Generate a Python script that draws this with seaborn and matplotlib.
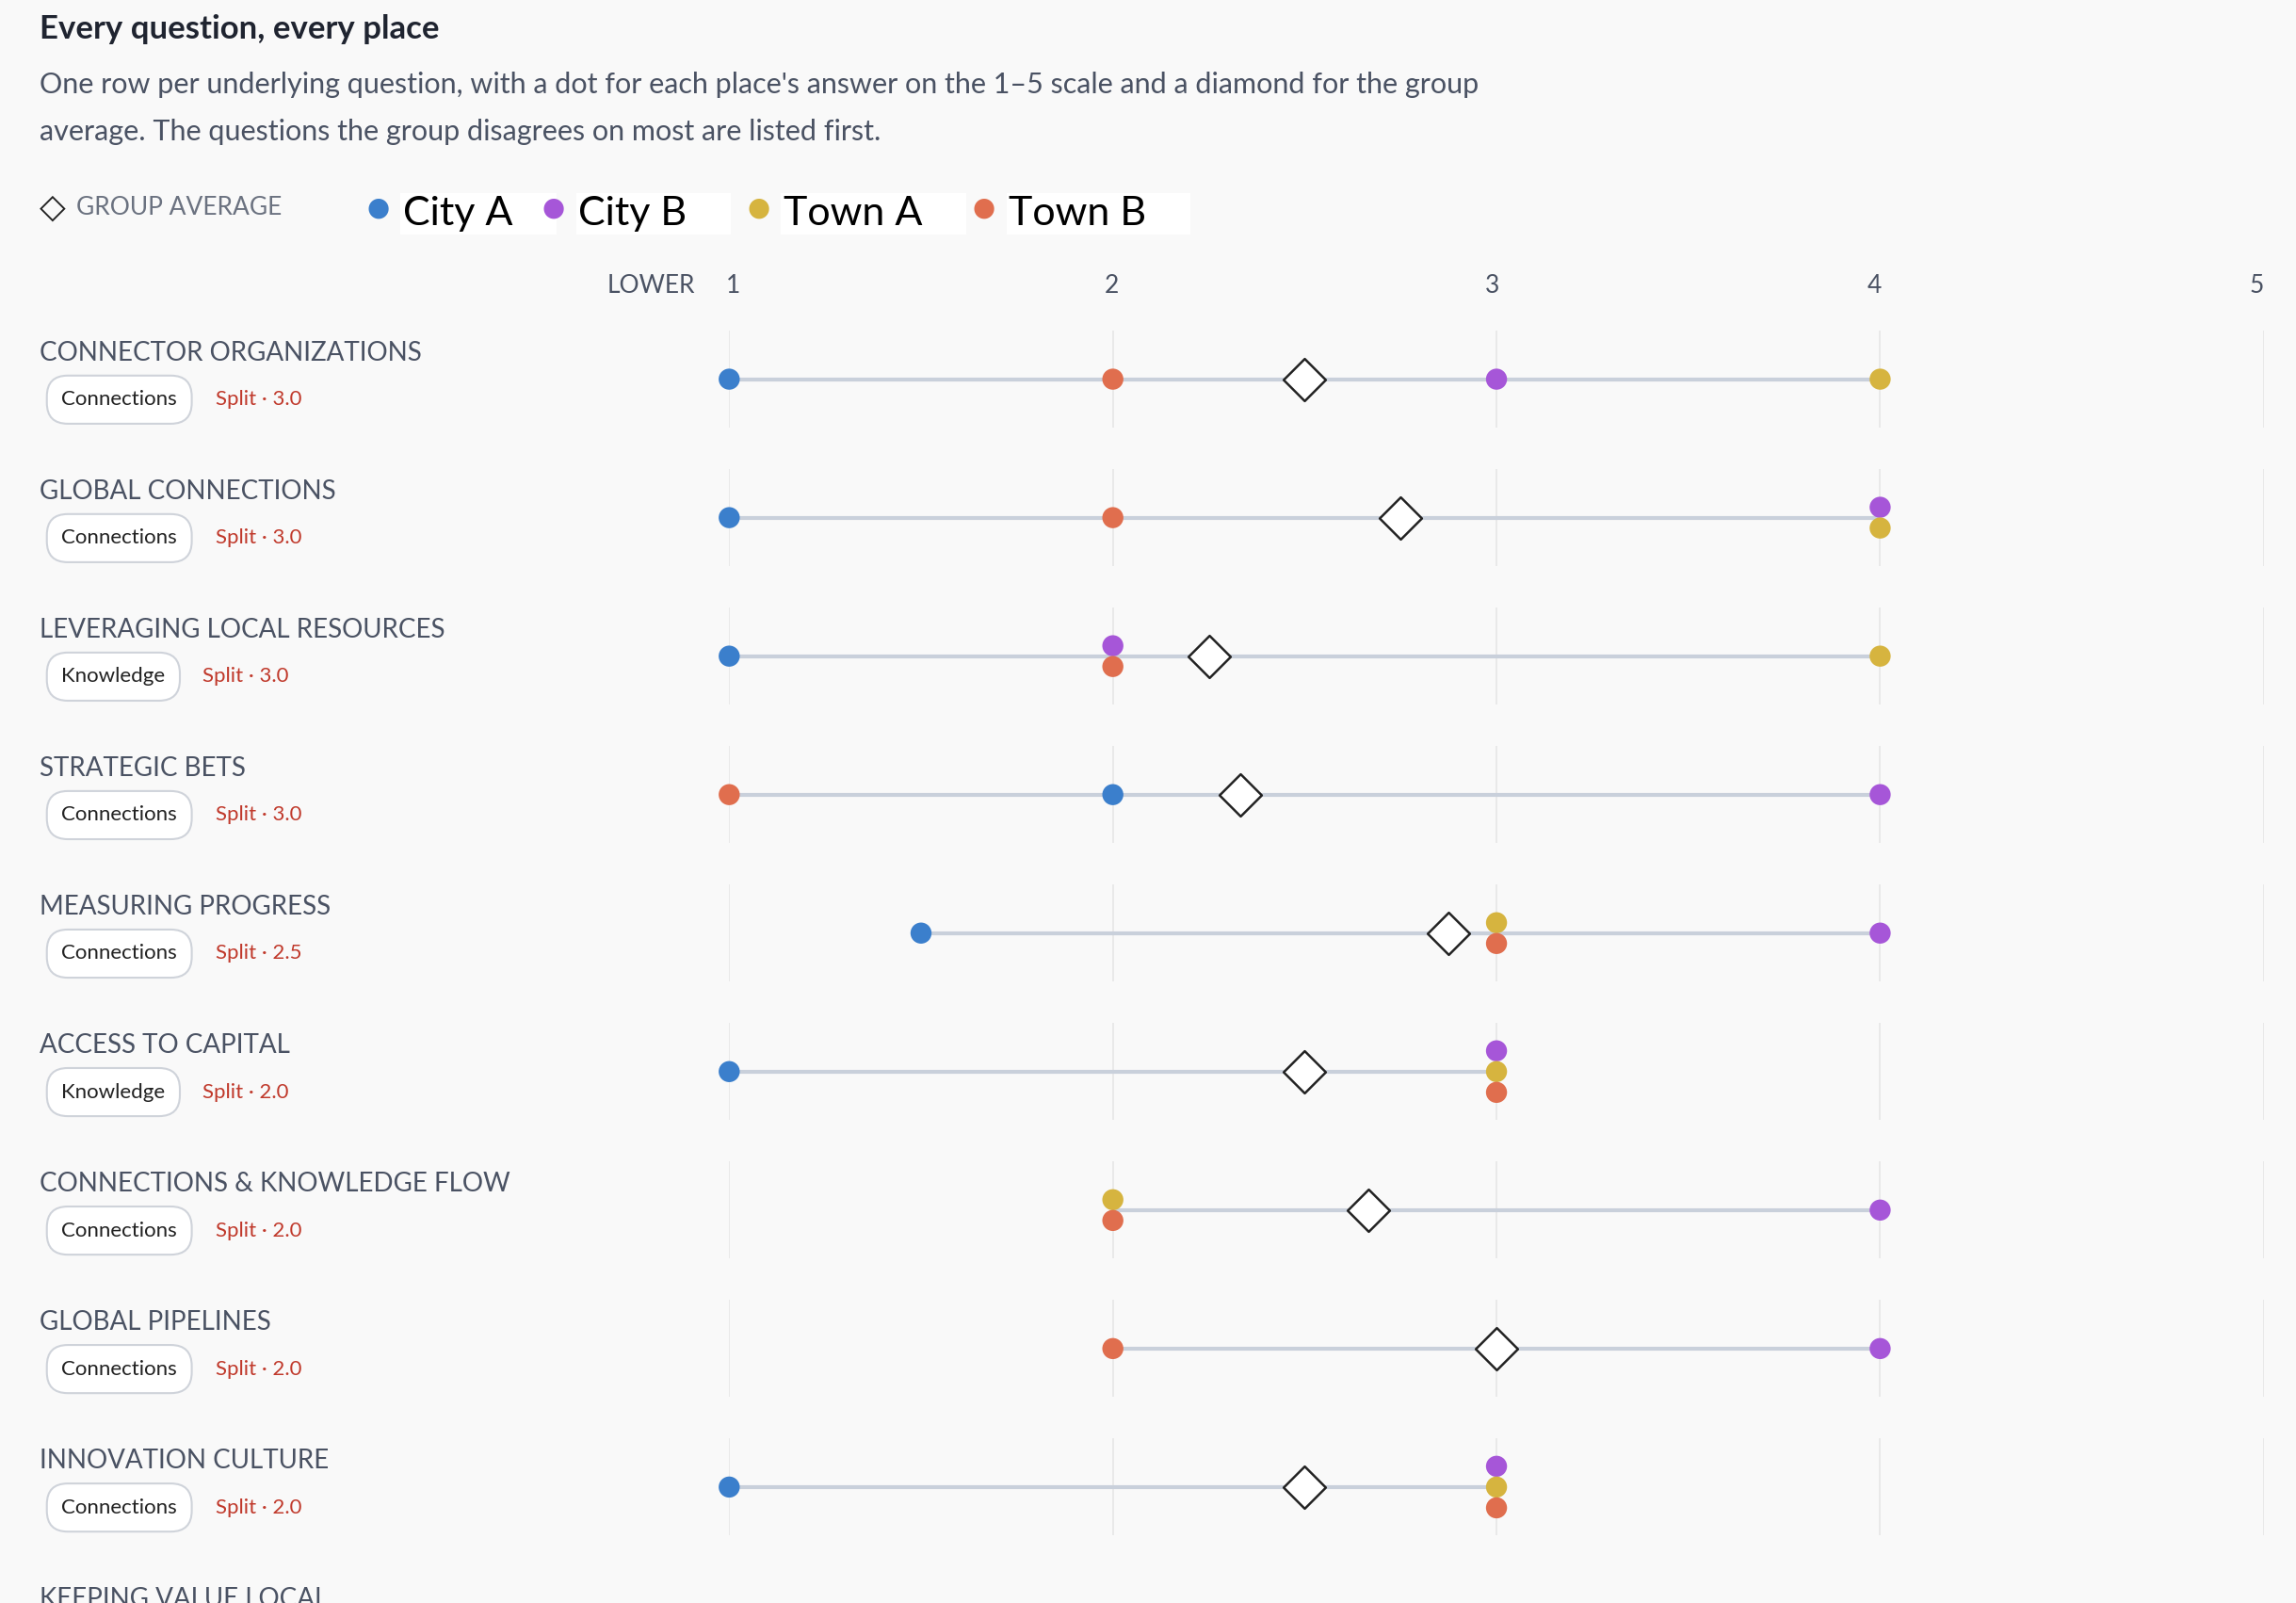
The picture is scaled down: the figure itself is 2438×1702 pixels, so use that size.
import numpy as np
import pandas as pd
import matplotlib.pyplot as plt
import seaborn as sns

questions = ["CONNECTOR ORGANIZATIONS", "GLOBAL CONNECTIONS", "LEVERAGING LOCAL RESOURCES",
             "STRATEGIC BETS", "MEASURING PROGRESS", "ACCESS TO CAPITAL",
             "CONNECTIONS & KNOWLEDGE FLOW", "GLOBAL PIPELINES", "INNOVATION CULTURE"]
themes = ["Connections", "Connections", "Knowledge", "Connections", "Connections",
          "Knowledge", "Connections", "Connections", "Connections"]
splits = [3.0, 3.0, 3.0, 3.0, 2.5, 2.0, 2.0, 2.0, 2.0]
city_a = [1, 1, 1, 2, 1.5, 1, np.nan, np.nan, 1]
city_b = [3, 4, 2, 4, 4, 3, 4, 4, 3]
town_a = [4, 4, 4, np.nan, 3, 3, 2, np.nan, 3]
town_b = [2, 2, 2, 1, 3, 3, 2, 2, 3]
places = ["City A", "City B", "Town A", "Town B"]
colors = {"City A": "#3b7fcc", "City B": "#a656d8", "Town A": "#d6b43f", "Town B": "#e06e4e"}

W, H = 1568, 1095
bg = "#f9f9f9"
sns.set_theme(style="white")
plt.rcParams['font.family'] = ['Lato', 'DejaVu Sans']
fig = plt.figure(figsize=(24.38, 17.02), dpi=100, facecolor=bg)

def fx(x): return x / W
def fy(y): return 1 - y / H

# axes: value 1 at x=498, value 5 at x=1546; rows start at y=259, step 94.6
top_px, bot_px, step = 210, 1095, 94.6
ax = fig.add_axes([fx(498), 0, fx(1546) - fx(498), fy(top_px)])
ax.set_facecolor(bg)
ax.set_xlim(1, 5)
ax.set_ylim((bot_px - 259) / step, (top_px - 259) / step)
ax.axis("off")

vals = {"City A": city_a, "City B": city_b, "Town A": town_a, "Town B": town_b}
rows = []
for i in range(len(questions)):
    groups = {}
    for p in places:
        if not np.isnan(vals[p][i]):
            groups.setdefault(vals[p][i], []).append(p)
    # stack tied values vertically
    for v, ps in groups.items():
        n = len(ps)
        for k, p in enumerate(ps):
            rows.append({"row": i, "y": i + (k - (n - 1) / 2) * 0.15, "value": v, "place": p})
df = pd.DataFrame(rows)

for i in range(len(questions)):
    ax.vlines([1, 2, 3, 4, 5], i - 0.35, i + 0.35, color="#e6e6e6", lw=1.2, zorder=0)
    v = df[df.row == i]["value"]
    ax.hlines(i, v.min(), v.max(), color="#c9d0db", lw=3, zorder=1)
    present = [vals[p][i] for p in places if not np.isnan(vals[p][i])]
    ax.scatter(np.mean(present), i, marker="D", s=520, facecolor="white",
               edgecolor="#222222", lw=1.8, zorder=4, clip_on=False)

sns.scatterplot(data=df, x="value", y="y", hue="place", palette=colors, s=260,
                edgecolor="none", ax=ax, legend=False, zorder=3, clip_on=False)

# header
fig.text(fx(27), fy(20), "Every question, every place", fontsize=25, fontweight="bold",
         color="#1f2430", va="center")
fig.text(fx(27), fy(58), "One row per underlying question, with a dot for each place's answer on the 1–5 scale and a diamond for the group",
         fontsize=22, color="#4a5263", va="center")
fig.text(fx(27), fy(90), "average. The questions the group disagrees on most are listed first.",
         fontsize=22, color="#4a5263", va="center")

# legend
fig.text(fx(36), fy(142), "◇", fontsize=26, color="#222222", va="center", ha="center",
         family=['DejaVu Sans'])
fig.text(fx(52), fy(142), "GROUP AVERAGE", fontsize=19, color="#6b7280", va="center")
for x, p in zip([258, 378, 518, 672], places):
    fig.text(fx(x), fy(142), "●", fontsize=20, color=colors[p], va="center", ha="center",
             family=['DejaVu Sans'])
    fig.text(fx(x + 17), fy(146), p + "    ", fontsize=31, color="black", va="center",
             bbox=dict(facecolor="white", edgecolor="none", pad=2))

# axis ticks
fig.text(fx(475), fy(195), "LOWER", fontsize=19, color="#4a5263", ha="right", va="center")
for v, x in zip(range(1, 6), [501, 759, 1019, 1280, 1541]):
    fig.text(fx(x), fy(195), str(v), fontsize=19, color="#4a5263", ha="center", va="center")

# row labels
pill = dict(boxstyle="round,pad=0.7,rounding_size=1.0", facecolor="white",
            edgecolor="#cfd3da", lw=1.5)
for i, (q, t, s) in enumerate(zip(questions, themes, splits)):
    yc = 241 + i * step
    fig.text(fx(27), fy(yc), q, fontsize=20, color="#4a5263", va="center")
    fig.text(fx(42), fy(yc + 32), t, fontsize=16, color="#222222", va="center", bbox=pill)
    off = 147 if t == "Connections" else 138
    fig.text(fx(off), fy(yc + 32), f"Split · {s:.1f}", fontsize=16, color="#c0392b", va="center")
fig.text(fx(27), fy(241 + 9 * step), "KEEPING VALUE LOCAL", fontsize=20, color="#4a5263", va="center")

fig.savefig("out.png", dpi=100, facecolor=bg)
